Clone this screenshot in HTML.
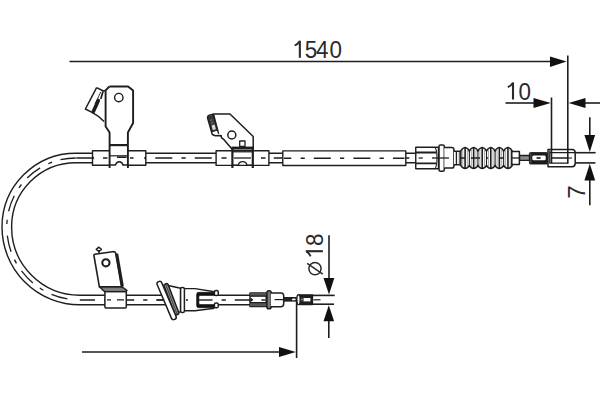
<!DOCTYPE html>
<html><head><meta charset="utf-8">
<style>
html,body{margin:0;padding:0;background:#fff;overflow:hidden;}
svg{display:block;}
text{font-family:"Liberation Sans",sans-serif;fill:#2a2a2a;}
</style></head>
<body>
<svg width="600" height="400" viewBox="0 0 600 400">
<g fill="none" stroke="#1e1e1e" stroke-width="1.4" stroke-linejoin="round">

<!-- ===== cable ===== -->
<path d="M 420,158 H 75.8 A 69 69 0 0 0 6.8 227 A 73 73 0 0 0 79.8 300 H 252" stroke-width="11"/>
<path d="M 420,158 H 75.8 A 69 69 0 0 0 6.8 227 A 73 73 0 0 0 79.8 300 H 252" stroke="#fff" stroke-width="8.2"/>
<path d="M 75.8,158 H 420" stroke-width="1.3" stroke-dasharray="17 9.2 4.2 9.1" stroke-dashoffset="39"/>
<path d="M 75.8,158 A 69 69 0 0 0 6.8 227" stroke-width="1.3" stroke-dasharray="16.5 8.6 4.2 9.1" stroke-dashoffset="1"/>
<path d="M 6.8,227 A 73 73 0 0 0 79.8 300" stroke-width="1.3" stroke-dasharray="0 8.7 16.5 8.6 4.2 9.1 16.5 8.6 4.2 9.1 16.5 40"/>
<path d="M 79.8,300 H 252" stroke-width="1.3" stroke-dasharray="17 9 4.2 9" stroke-dashoffset="1.8"/>

<!-- ===== clip 1 (top left) ===== -->
<g fill="#fff">
  <rect x="92.5" y="150.8" width="53.3" height="14.4"/>
  <!-- tab plate -->
  <path d="M 109.4,86.5 H 128.1 L 133.1,90.6 V 123 L 127.9,132.5 V 167.8 H 109.6 V 132.5 L 105.6,126.5 V 90.4 Z" stroke="none"/>
</g>
<path d="M 103,158 H 107.5 M 130,158 H 133.5" stroke-width="1.3"/>
<path d="M 117,157.2 H 126.5" stroke-width="1.6"/>
<path d="M 109.6,155.8 H 127.9" stroke-width="1.2"/>
<path d="M 92.5,156.5 l 1.2,1.5 l -1.2,1.5 M 145.8,156.5 l -1.2,1.5 l 1.2,1.5" stroke-width="1.2"/>
<path d="M 109.4,86.5 H 128.1 L 133.1,90.6 V 123 L 127.9,132.5 V 168" stroke-width="1.9"/>
<path d="M 109.4,86.5 L 105.6,90.4 V 126.5 L 109.6,132.5 V 168" stroke-width="1.9"/>
<path d="M 109.6,145.1 H 127.9" stroke-width="2.2"/>
<path d="M 109.6,165 H 115.5 Q 116.5,161.8 119.3,161.8 Q 122.1,161.8 123,165 H 127.9" stroke-width="1.4"/>
<circle cx="118.8" cy="97.6" r="4.2" fill="#fff"/>
<!-- flap -->
<path d="M 96.6,87.6 L 103.4,91 L 105.6,90.4 M 96.6,87.6 L 85.4,109 L 92.1,112.4 Q 99,116 104,121.5" fill="#fff" stroke-width="1.5"/>
<path d="M 103,91.5 L 100.8,99" stroke-width="1.7"/>
<path d="M 98.3,100.5 Q 96,106 93.2,111.8" stroke-width="3.6" stroke-linecap="round"/>
<path d="M 100.8,92 L 95,104" stroke-width="0.9"/>

<!-- ===== clip 2 ===== -->
<rect x="216.1" y="150.7" width="52.8" height="14.7" fill="#fff"/>
<path d="M 213.6,114 H 230 L 253.2,136.5 V 148.5 H 231.5 L 224,139.7 L 221.3,137.6 V 135.8 L 219.3,135.4 L 215.4,135.8 L 212.3,134.5 L 207.6,118 Q 207.4,115.8 209.5,115.2 Z" fill="#fff" stroke-width="1.5"/>
<path d="M 208.4,117.2 L 213.3,115.2 L 217.6,130.2 L 212.2,131.6 Z" fill="#3a3a3a" stroke="#1e1e1e" stroke-width="1"/>
<path d="M 211.6,125.5 L 214.6,124.6 L 215.8,129.3 L 212.8,130.1 Z" fill="#ddd" stroke="none"/>
<path d="M 213.6,114.5 L 218.6,133.8" stroke-width="1.4"/>
<path d="M 210.2,120.5 l 2,-0.7 M 211,123.2 l 2.2,-0.7" stroke="#888" stroke-width="0.8"/>
<circle cx="231.8" cy="135" r="4" fill="#fff" stroke-width="1.5"/>
<rect x="239.7" y="141" width="5.3" height="5.4" fill="#fff" stroke-width="1.3"/>
<rect x="231.5" y="146.6" width="21.7" height="2.8" fill="#1e1e1e" stroke="none"/>
<path d="M 232.4,147.6 V 168 M 252.8,147.6 V 168" stroke-width="2.2"/>
<path d="M 232.4,151.8 H 252.8" stroke-width="1.2"/>
<path d="M 234,158 H 251" stroke-width="1.3"/>
<path d="M 232.4,165.2 H 238.3 Q 239,161.6 242.6,161.6 Q 246.2,161.6 247,165.2 H 252.8" stroke-width="1.3"/>
<path d="M 221.5,158 H 226.5 M 261,158 H 265.5" stroke-width="1.3"/>

<!-- ===== sleeve ===== -->
<rect x="282.8" y="150.9" width="123" height="14.6" fill="#fff"/>
<path d="M 284,158.2 H 291.3 M 300.6,158.2 H 304.8 M 313.8,158.2 H 330.8 M 340,158.2 H 344.2 M 353.4,158.2 H 370.4 M 379.6,158.2 H 383.8 M 393,158.2 H 404.5" stroke-width="1.5"/>

<!-- ===== adjuster fitting ===== -->
<rect x="415.75" y="147.25" width="22.75" height="21.55" fill="#fff"/>
<path d="M 415.75,152.5 H 436 M 415.75,163.4 H 436" stroke-width="1.9"/>
<path d="M 435,147.25 Q 437,150 437,158 Q 437,166 435,168.8" stroke-width="1.1"/>
<path d="M 418.7,158 H 422.8" stroke-width="1.3"/>
<rect x="439" y="144.9" width="5.3" height="26.3" rx="1.5" fill="#fff" stroke-width="1.5"/>
<path d="M 444.3,147.5 H 451.8 Q 453.9,147.5 453.9,149.6 V 166 Q 453.9,168.1 451.8,168.1 H 444.3" fill="#fff" stroke-width="1.5"/>
<path d="M 432,158 H 449" stroke-width="1.3"/>
<path d="M 453.9,151.25 H 461 V 164.75 H 453.9" fill="#fff" stroke-width="1.4"/>
<path d="M 456.4,151.3 V 164.7" stroke-width="1.3"/>
<path d="M 459.3,151.3 V 164.7" stroke-width="0.8"/>

<!-- ===== bellows ===== -->
<path d="M 460.80,151.3 C 461.30,149.4 463.20,148 465.09,147.4 C 466.97,148 468.87,149.4 469.37,151.3 C 469.87,149.4 471.77,148 473.65,147.4 C 475.54,148 477.44,149.4 477.94,151.3 C 478.44,149.4 480.34,148 482.22,147.4 C 484.11,148 486.01,149.4 486.51,151.3 C 487.01,149.4 488.91,148 490.79,147.4 C 492.68,148 494.58,149.4 495.08,151.3 C 495.58,149.4 497.48,148 499.36,147.4 C 501.25,148 503.15,149.4 503.65,151.3 C 504.15,149.4 506.05,148 507.94,147.4 C 509.82,148 511.72,149.4 512.22,151.3 V 165.3 C 511.72,167.2 509.82,168.1 507.94,168.6 C 506.05,168.1 504.15,167.2 503.65,165.3 C 503.15,167.2 501.25,168.1 499.36,168.6 C 497.48,168.1 495.58,167.2 495.08,165.3 C 494.58,167.2 492.68,168.1 490.79,168.6 C 488.91,168.1 487.01,167.2 486.51,165.3 C 486.01,167.2 484.11,168.1 482.22,168.6 C 480.34,168.1 478.44,167.2 477.94,165.3 C 477.44,167.2 475.54,168.1 473.65,168.6 C 471.77,168.1 469.87,167.2 469.37,165.3 C 468.87,167.2 466.97,168.1 465.09,168.6 C 463.20,168.1 461.30,167.2 460.80,165.3 Z" fill="#fff" stroke-width="1.5"/>
<path d="M 465.09,147.6 V 168.4 M 473.65,147.6 V 168.4 M 482.22,147.6 V 168.4 M 490.79,147.6 V 168.4 M 499.36,147.6 V 168.4 M 507.94,147.6 V 168.4" stroke-width="1.6"/>
<path d="M 469.37,151.3 V 165.3 M 477.94,151.3 V 165.3 M 486.51,151.3 V 165.3 M 495.08,151.3 V 165.3 M 503.65,151.3 V 165.3" stroke-width="1.1"/>
<path d="M 462.78,148.6 V 167.4 M 467.39,148.6 V 167.4 M 471.35,148.6 V 167.4 M 475.96,148.6 V 167.4 M 479.92,148.6 V 167.4 M 484.52,148.6 V 167.4 M 488.49,148.6 V 167.4 M 493.09,148.6 V 167.4 M 497.06,148.6 V 167.4 M 501.66,148.6 V 167.4 M 505.64,148.6 V 167.4 M 510.24,148.6 V 167.4" stroke-width="0.5" stroke="#555"/>
<path d="M 460.80,158 H 465 M 471,158 H 480 M 486,158 H 488 M 499,158 H 504" stroke-width="1.3"/>

<!-- ===== rod & ferrule ===== -->
<rect x="511.8" y="151.4" width="7.6" height="13.1" fill="#fff" stroke-width="1.5"/>
<path d="M 511.8,158 H 519.4" stroke-width="1.3"/>
<rect x="519.6" y="155.5" width="10" height="4.9" fill="#8a8a8a" stroke-width="1.3"/>
<rect x="529.4" y="152.5" width="18.2" height="11.6" rx="1" fill="#1a1a1a" stroke="#1a1a1a" stroke-width="0.8"/>
<rect x="532.3" y="155.6" width="13.4" height="4.7" rx="1.3" fill="#fff" stroke="none"/>
<path d="M 536.6,158 H 540.6" stroke-width="1.7"/>
<path d="M 530.8,153 V 163.6" stroke="#666" stroke-width="0.8"/>
<!-- ===== end barrel ===== -->
<path d="M 548,149.6 H 572 Q 575.2,149.6 575.2,152.8 V 163.6 Q 575.2,166.8 572,166.8 H 548 Z" fill="#fff" stroke-width="1.5"/>
<path d="M 549.8,150.5 V 163.2 H 568.4 M 549.8,152.6 H 575.2 M 551,158 H 568.4" stroke-width="1.3"/>
<path d="M 568.4,158 H 572" stroke-width="1.1"/>

<!-- ===== clip 3 (bottom) ===== -->
<rect x="104.9" y="291.5" width="21.4" height="16.4" rx="1" fill="#fff" stroke-width="1.5"/>
<path d="M 99.4,286.8 L 103.8,290.9 L 104.9,291.5 H 126.3 L 126.9,290.3 L 121.9,286.8 Z" fill="#9a9a9a" stroke-width="1.5"/>
<path d="M 101.5,288.9 H 124.5" stroke="#555" stroke-width="0.8"/>
<path d="M 94,256 Q 93.5,254.5 95,254.3 L 112.5,251.7 Q 115,251.3 116,253.5 L 121.9,286.8 H 99.4 Z" fill="#fff" stroke-width="1.6"/>
<path d="M 116.6,253.8 L 122.3,286.6" stroke-width="3.2"/>
<circle cx="105.9" cy="262.8" r="3.6" fill="#fff" stroke-width="2.1"/>
<path d="M 99,254 V 251.5 M 96.3,249.3 L 98.9,247.2 L 101.4,249.3 L 98.9,251.3 Z" fill="#fff" stroke-width="1.5"/>
<path d="M 107,299.8 H 111 M 117,299.8 H 124" stroke-width="1.3"/>

<!-- ===== grommet & fork ===== -->
<path d="M 167,285.3 L 180.6,288.3 V 311.6 L 176,313.2 Z" fill="#fff" stroke-width="1.4"/>
<g transform="translate(171.4 299.3) rotate(-21)">
  <rect x="-2.2" y="-16.5" width="4.4" height="33" rx="1.6" fill="#3a3a3a" stroke-width="1.4"/>
  <path d="M -0.9,-15.5 V 15.5 M 0.9,-15.5 V 15.5" stroke="#bbb" stroke-width="0.6"/>
</g>
<g transform="translate(166.6 300.5) rotate(-23)">
  <rect x="-2.5" y="-20.5" width="5" height="41" rx="2.4" fill="#fff" stroke-width="1.5"/>
</g>
<path d="M 156.5,300 H 164.2" stroke-width="1.3"/>
<path d="M 184.4,288.75 H 195 L 214,292 V 307.5 L 195,310.6 H 184.4 Z" fill="#fff" stroke="none"/>
<path d="M 184.4,288.6 H 195 L 214.5,291.8 M 184.4,310.7 H 195 L 214.5,308.2" stroke-width="1.4"/>
<rect x="180.6" y="287.5" width="3.8" height="25" rx="1.6" fill="#fff" stroke-width="1.5"/>
<path d="M 198.5,292.3 H 215 V 295.5 H 199.8 Q 198.9,295.5 198.9,297 V 303 Q 198.9,304.5 199.8,304.5 H 215 V 307.7 H 198.5 Q 196.6,307.7 196.6,305.5 V 294.5 Q 196.6,292.3 198.5,292.3 Z" fill="#111" stroke="#111" stroke-width="0.6"/>
<rect x="214.4" y="290.6" width="3.9" height="4.9" rx="1.6" fill="#fff" stroke-width="1.5"/>
<rect x="214.4" y="302.9" width="3.9" height="4.9" rx="1.6" fill="#fff" stroke-width="1.5"/>
<path d="M 197.5,300 H 212.6" stroke-width="1.4"/>
<path d="M 186,300 H 188" stroke-width="1.3"/>
<!-- ===== bottom end fittings ===== -->
<rect x="250" y="293.1" width="16.2" height="13.4" fill="#fff" stroke-width="1.5"/>
<rect x="250" y="293.3" width="16.2" height="3" fill="#555" stroke="none"/>
<rect x="250" y="302.8" width="16.2" height="3.4" fill="#555" stroke="none"/>
<path d="M 250,296.2 H 266.2 M 250,302.6 H 266.2" stroke-width="1.2"/>
<path d="M 250.8,298.2 L 253,299.8 L 250.8,301.4 Z" fill="#1e1e1e" stroke-width="0.8"/>
<path d="M 261.3,300 H 265.5" stroke-width="1.4"/>
<rect x="266.9" y="290.7" width="4.2" height="18" rx="1.8" fill="#777" stroke-width="1.5"/>
<path d="M 270.8,292.9 H 281.3 Q 283.7,292.9 283.7,296 V 303.6 Q 283.7,306.7 281.3,306.7 H 270.8" fill="#fff" stroke-width="1.5"/>
<path d="M 274.6,299.6 H 283" stroke-width="1.2"/>
<rect x="283.7" y="297.5" width="13.3" height="3.6" fill="#222" stroke-width="1"/>
<ellipse cx="293.8" cy="299.4" rx="1.9" ry="0.9" fill="#fff" stroke="none"/>
<rect x="299.8" y="294.8" width="12.7" height="9.8" fill="#fff" stroke-width="1.3"/>
<rect x="299.8" y="294.8" width="12.7" height="3.2" fill="#1e1e1e" stroke="none"/>
<rect x="299.8" y="301.4" width="12.7" height="3.2" fill="#1e1e1e" stroke="none"/>
<rect x="299.8" y="297" width="3.8" height="5.2" fill="#333" stroke="none"/>
<path d="M 300.5,299.6 H 303" stroke="#aaa" stroke-width="0.8"/>
<path d="M 311.4,295 V 304.4" stroke-width="2"/>
<ellipse cx="298.5" cy="299.7" rx="1.7" ry="4.9" fill="#fff" stroke-width="1.4"/>
<path d="M 313.5,299.8 H 320.5" stroke-width="1.2"/>

<!-- ===== dimension lines ===== -->
<g stroke-width="1.6" stroke="#1e1e1e">
  <path d="M 69.5,61.5 H 552"/>
  <path d="M 567.8,55.5 V 163.2"/>
  <path d="M 551.5,97.5 V 163.2"/>
  <path d="M 505.5,103 H 536"/>
  <path d="M 584,103 H 600"/>
  <path d="M 589.8,117.3 V 137"/>
  <path d="M 589.8,179 V 205.2"/>
  <path d="M 575,152.7 H 595.6"/>
  <path d="M 575,162.9 H 595.4"/>
  <path d="M 329,235.3 V 280"/>
  <path d="M 328.8,320 V 338"/>
  <path d="M 312,295.4 H 334.7"/>
  <path d="M 312,304.2 H 334"/>
  <path d="M 82,352 H 281"/>
  <path d="M 296.6,300 V 358"/>
</g>
<g fill="#111" stroke="none">
  <polygon points="550,56.4 566.6,61.6 550,66.9"/>
  <polygon points="533.5,98 550.8,103 533.5,108"/>
  <polygon points="585.5,98 568.6,103 585.5,108"/>
  <polygon points="584.4,135 595.1,135 589.8,152"/>
  <polygon points="589.8,163.8 584.4,180.5 595.2,180.5"/>
  <polygon points="323.5,278.1 334.3,278.1 329,294.6"/>
  <polygon points="328.8,305.2 323.5,321.3 334.1,321.3"/>
  <polygon points="279,347 295.8,352 279,357"/>
</g>

</g>

<!-- ===== text ===== -->
<g font-size="24.4">
  <g fill="none" stroke="#2a2a2a" transform="translate(299.85 57.8)"><path d="M 0,-17.1 V 0" stroke-width="2.1"/><path d="M -0.2,-16.6 Q -1.9,-13.7 -5.2,-12.3" stroke-width="1.9"/></g>
  <text x="0" y="0" transform="translate(304.7 57.8) scale(0.92 1)">5</text>
  <text x="0" y="0" transform="translate(316.1 57.8) scale(0.92 1)">4</text>
  <text x="0" y="0" transform="translate(329.5 57.8) scale(0.92 1)">0</text>
  <g fill="none" stroke="#2a2a2a" transform="translate(513 99.5)"><path d="M 0,-17.1 V 0" stroke-width="2.1"/><path d="M -0.2,-16.6 Q -1.9,-13.7 -5.2,-12.3" stroke-width="1.9"/></g>
  <text x="0" y="0" transform="translate(518.5 99.5) scale(0.92 1)">0</text>
  <text x="0" y="0" transform="translate(584.7 198.7) rotate(-90) scale(1.0 1)">7</text>
  <g fill="none" stroke="#2a2a2a" transform="translate(322.9 251.2) rotate(-90)"><path d="M 0,-17.1 V 0" stroke-width="2.1"/><path d="M -0.2,-16.6 Q -1.9,-13.7 -5.2,-12.3" stroke-width="1.9"/></g>
  <text x="0" y="0" transform="translate(322.9 246) rotate(-90) scale(0.92 1)">8</text>
</g>
<g fill="none" stroke="#2a2a2a" stroke-width="1.5">
  <circle cx="315" cy="268.6" r="6.1"/>
  <path d="M 307.2,263.4 L 322.8,274.2"/>
</g>

</svg>
</body></html>
